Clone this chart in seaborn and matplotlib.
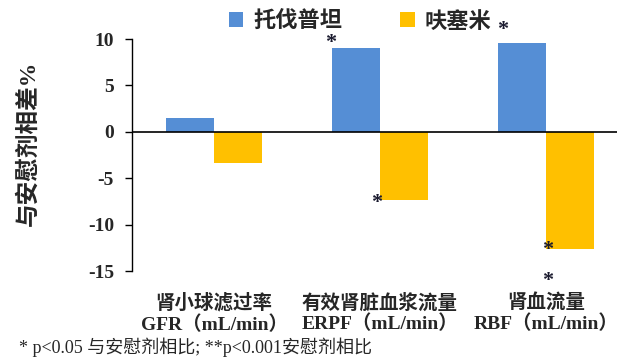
import matplotlib
matplotlib.use("Agg")
import matplotlib.pyplot as plt
import seaborn as sns
import pandas as pd

categories = ["肾小球滤过率\nGFR（mL/min）", "有效肾脏血浆流量\nERPF（mL/min）", "肾血流量\nRBF（mL/min）"]
series_names = ["托伐普坦", "呋塞米"]
tolvaptan = [1.5, 9.0, 9.6]
furosemide = [-3.4, -7.4, -12.6]
yticks = [-15, -10, -5, 0, 5, 10]
footnote = "* p<0.05 与安慰剂相比; **p<0.001安慰剂相比"
ylabel = "与安慰剂相差%"

df = pd.DataFrame({
    "cat": categories * 2,
    "drug": [series_names[0]] * 3 + [series_names[1]] * 3,
    "val": tolvaptan + furosemide,
})

sns.set_theme(style="white")
CJK = ["Liberation Serif", "Noto Sans CJK SC"]
plt.rcParams["font.family"] = CJK

fig = plt.figure(figsize=(6.18, 3.63), dpi=100)
W, H = 618, 363
ax = fig.add_axes([132 / W, 1 - 271 / H, (617 - 132) / W, (271 - 39) / H])

sns.barplot(data=df, x="cat", y="val", hue="drug", order=categories, hue_order=series_names,
            palette=["#558ED5", "#FFC000"], width=0.578, linewidth=0, saturation=1, ax=ax)

ax.set_xlim(-(214 - 132) / 166, 2 + (617 - 546) / 166)
ax.set_ylim(-15, 10)
ax.set_yticks(yticks)
ax.set_yticklabels([str(t) for t in yticks], fontsize=14, fontweight="bold", family="Liberation Serif")
ax.tick_params(axis="y", direction="out", length=5, width=1, color="black", left=True, pad=8)
ax.tick_params(axis="x", length=0, pad=16)
for lab in ax.get_xticklabels():
    lab.set_fontsize(14)
    lab.set_fontweight("bold")
    lab.set_linespacing(1.15)
    lab.set_family(CJK)

for s in ["top", "right", "bottom"]:
    ax.spines[s].set_visible(False)
ax.spines["left"].set_color("black")
ax.spines["left"].set_linewidth(1)
ax.axhline(0, color="black", lw=1.2, zorder=3)

ax.set_xlabel("")
ax.set_ylabel("")
fig.text(28 / W, 1 - 143 / H, ylabel, rotation=90, ha="center", va="center",
         fontsize=17, fontweight="bold", family=CJK)

handles, labels = ax.get_legend_handles_labels()
if ax.legend_:
    ax.legend_.remove()
fig.legend(handles, labels, loc="center left", bbox_to_anchor=(229 / W, 1 - 22 / H),
           ncol=2, frameon=False, prop={"family": CJK, "size": 16, "weight": "bold"},
           handlelength=0.65, handleheight=0.65, handletextpad=0.45, columnspacing=2.6,
           borderpad=0, borderaxespad=0)

# significance asterisks
stars = [(0.70, 9.55), (1.74, 11.0), (0.98, -7.7), (2.01, -12.7), (2.01, -16.1)]
for x, y in stars:
    ax.text(x, y, "*", ha="center", va="center", fontsize=16, fontweight="bold",
            family="Liberation Serif", color="#1a1a2e", clip_on=False)

fig.text(19 / W, 1 - 347 / H, footnote, ha="left", va="center", fontsize=13, family=CJK)

fig.savefig("out.png", dpi=100)
